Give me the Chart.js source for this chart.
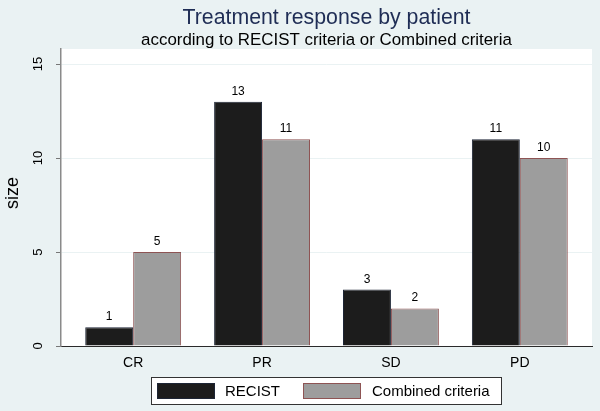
<!DOCTYPE html>
<html><head><meta charset="utf-8">
<script src="https://cdn.jsdelivr.net/npm/chart.js@4/dist/chart.umd.min.js"></script>
<style>html,body{margin:0;padding:0;background:#eaf2f3;overflow:hidden;}</style>
</head><body>
<canvas id="c" width="600" height="411" style="display:block;width:600px;height:411px"></canvas>
<script>
const categories = ['CR', 'PR', 'SD', 'PD'];
const recist = [1, 13, 3, 11];
const combined = [5, 11, 2, 10];
const yTicks = [0, 5, 10, 15];
const seriesNames = ['RECIST', 'Combined criteria'];
const titleText = 'Treatment response by patient';
const subtitleText = 'according to RECIST criteria or Combined criteria';
const yTitle = 'size';

const FONT = '"Liberation Sans", Arial, Helvetica, sans-serif';
const BG = '#eaf2f3';
const C1 = '#1c1c1c', C1B = '#1d2535';
const C2 = '#9d9d9d', C2B = '#8e5454';

const deco = {
  id: 'deco',
  beforeDraw(chart) {
    const {ctx, chartArea: a} = chart;
    ctx.save();
    ctx.fillStyle = BG;
    ctx.fillRect(0, 0, chart.width, chart.height);
    ctx.fillStyle = '#ffffff';
    ctx.fillRect(a.left, a.top, a.right - a.left, a.bottom - a.top);
    ctx.restore();
  },
  afterDatasetsDraw(chart) {
    const ctx = chart.ctx;
    ctx.save();
    ctx.font = '12px ' + FONT;
    ctx.fillStyle = '#000';
    ctx.textAlign = 'center';
    ctx.textBaseline = 'alphabetic';
    chart.data.datasets.forEach((ds, d) => {
      chart.getDatasetMeta(d).data.forEach((bar, i) => {
        ctx.fillText(String(ds.data[i].y), bar.x, bar.y - 7);
      });
    });
    ctx.restore();
  },
  afterDraw(chart) {
    const {ctx, chartArea: a} = chart;
    const cx = (a.left + a.right) / 2;
    ctx.save();
    ctx.textAlign = 'center';
    ctx.textBaseline = 'alphabetic';
    ctx.fillStyle = '#1f2d55';
    ctx.font = '21.3px ' + FONT;
    ctx.fillText(titleText, cx, 24);
    ctx.fillStyle = '#000';
    ctx.font = '16.9px ' + FONT;
    ctx.fillText(subtitleText, cx, 45);
    // y title
    ctx.save();
    ctx.translate(13, 193);
    ctx.rotate(-Math.PI / 2);
    ctx.textBaseline = 'middle';
    ctx.font = '18px ' + FONT;
    ctx.fillText(yTitle, 0, 0);
    ctx.restore();
    // legend
    const left = cx - 175.5, top = 377, w = 351, h = 28;
    ctx.fillStyle = '#fff';
    ctx.fillRect(left, top, w, h);
    ctx.strokeStyle = '#333';
    ctx.lineWidth = 1;
    ctx.strokeRect(left + 0.5, top + 0.5, w - 1, h - 1);
    const ds = chart.data.datasets;
    const items = [[left + 6, left + 74], [left + 152, left + 221]];
    ctx.font = '15px ' + FONT;
    ctx.textAlign = 'left';
    ctx.textBaseline = 'middle';
    items.forEach(([sx, tx], k) => {
      ctx.fillStyle = ds[k].backgroundColor;
      ctx.fillRect(sx, top + 6, 58, 16);
      ctx.strokeStyle = ds[k].borderColor;
      ctx.strokeRect(sx + 0.5, top + 6.5, 57, 15);
      ctx.fillStyle = '#000';
      ctx.fillText(ds[k].label, tx, top + 14.5);
    });
    ctx.restore();
  }
};

new Chart(document.getElementById('c'), {
  type: 'bar',
  data: {
    datasets: [
      { label: seriesNames[0], data: recist.map((v, i) => ({x: i, y: v})),
        backgroundColor: C1, borderColor: C1B, borderWidth: 1,
        categoryPercentage: 0.744, barPercentage: 1 },
      { label: seriesNames[1], data: combined.map((v, i) => ({x: i, y: v})),
        backgroundColor: C2, borderColor: C2B, borderWidth: 1,
        categoryPercentage: 0.744, barPercentage: 1 }
    ]
  },
  options: {
    responsive: false,
    animation: false,
    devicePixelRatio: 1,
    layout: { padding: { top: 49, right: 8, left: 0, bottom: 0 } },
    plugins: { legend: { display: false }, title: { display: false }, tooltip: { enabled: false } },
    scales: {
      x: {
        type: 'linear', position: 'bottom', min: -0.56, max: 3.56, offset: false,
        grid: { display: false, drawTicks: false },
        border: { color: '#2a2a2a', width: 1 },
        ticks: { font: { family: FONT, size: 14 }, color: '#000', padding: 9,
                 callback: v => categories[v] },
        afterBuildTicks: s => { s.ticks = categories.map((c, i) => ({ value: i })); },
        afterFit: s => { s.height = 65; }
      },
      y: {
        min: 0, max: 15.8,
        grid: { color: c => (c.tick && c.tick.value === 0) ? 'rgba(0,0,0,0)' : BG, lineWidth: 1,
                tickColor: '#777', tickLength: 5, drawTicks: true },
        border: { color: '#8a8a8a', width: 1.5 },
        ticks: { font: { family: FONT, size: 13 }, color: '#000', minRotation: 90, maxRotation: 90,
                 crossAlign: 'center', padding: 10 },
        afterBuildTicks: s => { s.ticks = yTicks.map(v => ({ value: v })); },
        afterFit: s => { s.width = 61; }
      }
    }
  },
  plugins: [deco]
});
</script>
</body></html>
